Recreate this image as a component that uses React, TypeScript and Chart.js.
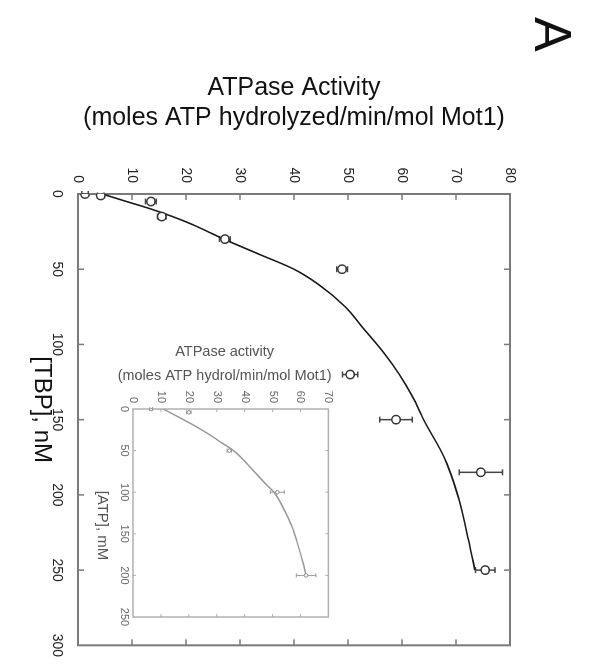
import { useEffect, useRef } from 'react';
import { Chart, registerables } from 'chart.js';

Chart.register(...registerables);

const FAMILY = '"Liberation Sans", Arial, Helvetica, sans-serif';
Chart.defaults.font.family = FAMILY;

// ---- Main panel: ATPase activity vs [TBP] ----
const TBP_NM = [0, 1, 5, 15, 30, 50, 120, 150, 185, 250];
const ACTIVITY = [1.3, 4.2, 13.5, 15.5, 27.2, 48.9, 50.4, 58.9, 74.6, 75.4];
const ACTIVITY_ERR = [0.6, 0.6, 1.0, 0.8, 1.0, 1.0, 1.4, 3.0, 4.0, 1.8];
const FIT_TBP = [0, 5, 10, 15, 20, 30, 40, 50, 60, 75, 90, 105, 120, 135, 150, 175, 200, 225, 250];
const FIT_ACTIVITY = [4.5, 9, 13.5, 17.5, 21, 27, 33.5, 40, 44.5, 49.5, 53, 56.5, 59.5, 62, 64, 67.8, 70.3, 72, 73.5];
const TBP_TICKS = [0, 50, 100, 150, 200, 250, 300];
const ACTIVITY_TICKS = [0, 10, 20, 30, 40, 50, 60, 70, 80];

// ---- Inset: ATPase activity vs [ATP] ----
const ATP_MM = [0, 4, 50, 100, 200];
const INSET_ACTIVITY = [6.5, 20, 34.5, 51.7, 62];
const INSET_ERR = [0.5, 0.8, 0.8, 2.5, 3.5];
const FIT_ATP = [0, 10, 20, 30, 40, 50, 70, 90, 100, 120, 140, 160, 180, 200];
const FIT_INSET = [10.8, 16.5, 22, 27, 31.5, 36, 42, 47.5, 50.5, 54, 56.8, 58.8, 60.5, 62];
const ATP_TICKS = [0, 50, 100, 150, 200, 250];
const INSET_ACTIVITY_TICKS = [0, 10, 20, 30, 40, 50, 60, 70];

const pts = (xs: number[], ys: number[]) => xs.map((x, i) => ({ x, y: ys[i] }));
const setTicks = (values: number[]) => (axis: any) => {
  axis.ticks = values.map((v) => ({ value: v }));
};

const frame = {
  id: 'frame',
  beforeDatasetsDraw(chart: any, _args: any, opts: any) {
    const { ctx, chartArea: a, scales } = chart;
    ctx.save();
    ctx.strokeStyle = opts.color;
    ctx.lineWidth = opts.width;
    ctx.strokeRect(a.left, a.top, a.right - a.left, a.bottom - a.top);
    ctx.lineWidth = opts.tickWidth;
    const len = opts.tickLength;
    ctx.beginPath();
    scales.x.ticks.forEach((t: any) => {
      const x = scales.x.getPixelForValue(t.value);
      if (x <= a.left + 1 || x >= a.right - 1) return;
      ctx.moveTo(x, a.bottom);
      ctx.lineTo(x, a.bottom - len);
      ctx.moveTo(x, a.top);
      ctx.lineTo(x, a.top + len);
    });
    scales.y.ticks.forEach((t: any) => {
      const y = scales.y.getPixelForValue(t.value);
      if (y <= a.top + 1 || y >= a.bottom - 1) return;
      ctx.moveTo(a.left, y);
      ctx.lineTo(a.left + len, y);
      ctx.moveTo(a.right, y);
      ctx.lineTo(a.right - len, y);
    });
    ctx.stroke();
    ctx.restore();
  },
};

const errorBars = {
  id: 'errorBars',
  beforeDatasetsDraw(chart: any, _args: any, opts: any) {
    const { ctx } = chart;
    const ys = chart.scales.y;
    chart.data.datasets.forEach((ds: any, i: number) => {
      if (!ds.errors) return;
      const meta = chart.getDatasetMeta(i);
      ctx.save();
      ctx.strokeStyle = opts.color;
      ctx.lineWidth = opts.width;
      meta.data.forEach((pt: any, j: number) => {
        const v = ds.data[j].y;
        const e = ds.errors[j];
        const y1 = ys.getPixelForValue(v - e);
        const y2 = ys.getPixelForValue(v + e);
        ctx.beginPath();
        ctx.moveTo(pt.x, y1);
        ctx.lineTo(pt.x, y2);
        ctx.moveTo(pt.x - opts.cap, y1);
        ctx.lineTo(pt.x + opts.cap, y1);
        ctx.moveTo(pt.x - opts.cap, y2);
        ctx.lineTo(pt.x + opts.cap, y2);
        ctx.stroke();
      });
      ctx.restore();
    });
  },
};

const panelLetter = {
  id: 'panelLetter',
  afterDraw(chart: any, _args: any, opts: any) {
    if (!opts || !opts.text) return;
    const { ctx } = chart;
    ctx.save();
    ctx.font = `${opts.size}px ${FAMILY}`;
    ctx.fillStyle = opts.color;
    ctx.textBaseline = 'alphabetic';
    ctx.textAlign = 'left';
    ctx.fillText(opts.text, opts.x, opts.y);
    ctx.restore();
  },
};

export default function App() {
  const mainRef = useRef<HTMLCanvasElement>(null);
  const insetRef = useRef<HTMLCanvasElement>(null);

  useEffect(() => {
    document.documentElement.style.overflow = 'hidden';
    document.body.style.overflow = 'hidden';

    const main = new Chart(mainRef.current as HTMLCanvasElement, {
      type: 'scatter',
      data: {
        datasets: [
          {
            label: 'Measured',
            data: pts(TBP_NM, ACTIVITY),
            errors: ACTIVITY_ERR,
            pointRadius: 4.2,
            pointHoverRadius: 4.2,
            pointBorderWidth: 1.5,
            borderColor: '#333',
            backgroundColor: '#fff',
          } as any,
          {
            label: 'Fit',
            data: pts(FIT_TBP, FIT_ACTIVITY),
            showLine: true,
            borderColor: '#1a1a1a',
            borderWidth: 1.6,
            pointRadius: 0,
            pointHoverRadius: 0,
            cubicInterpolationMode: 'monotone',
            fill: false,
          } as any,
        ],
      },
      options: {
        responsive: false,
        animation: false,
        events: [],
        layout: { padding: { top: 81, right: 18, bottom: 0, left: 0 } },
        plugins: {
          legend: { display: false },
          tooltip: { enabled: false },
          frame: { color: '#7a7a7a', width: 2, tickWidth: 1.5, tickLength: 6 },
          errorBars: { color: '#444', width: 1.5, cap: 3 },
          panelLetter: { text: 'A', size: 52, color: '#111', x: 17, y: 56 },
        } as any,
        scales: {
          x: {
            type: 'linear',
            position: 'bottom',
            min: 0,
            max: 300,
            afterBuildTicks: setTicks(TBP_TICKS),
            afterFit: (s: any) => {
              s.height = 78;
            },
            grid: { display: false, drawTicks: false },
            border: { display: false },
            ticks: { font: { size: 14 }, color: '#222', padding: 13, maxRotation: 0, autoSkip: false },
            title: {
              display: true,
              text: '[TBP], nM   ',
              font: { size: 24, lineHeight: 1.2 },
              color: '#111',
              padding: { top: 0, bottom: 27 },
            },
          },
          y: {
            type: 'linear',
            position: 'left',
            min: 0,
            max: 80,
            afterBuildTicks: setTicks(ACTIVITY_TICKS),
            afterFit: (s: any) => {
              s.width = 194;
            },
            grid: { display: false, drawTicks: false },
            border: { display: false },
            ticks: { font: { size: 14 }, color: '#222', padding: 11, autoSkip: false },
            title: {
              display: true,
              text: ['ATPase Activity', '(moles ATP hydrolyzed/min/mol Mot1)'],
              font: { size: 25, lineHeight: 1.2 },
              color: '#111',
              padding: { top: 73, bottom: 0 },
            },
          },
        },
      },
      plugins: [frame, errorBars, panelLetter],
    } as any);

    const inset = new Chart(insetRef.current as HTMLCanvasElement, {
      type: 'scatter',
      data: {
        datasets: [
          {
            label: 'Measured',
            data: pts(ATP_MM, INSET_ACTIVITY),
            errors: INSET_ERR,
            pointRadius: 1.8,
            pointHoverRadius: 1.8,
            pointBorderWidth: 1,
            borderColor: '#8a8a8a',
            backgroundColor: '#fff',
          } as any,
          {
            label: 'Fit',
            data: pts(FIT_ATP, FIT_INSET),
            showLine: true,
            borderColor: '#9a9a9a',
            borderWidth: 1.5,
            pointRadius: 0,
            pointHoverRadius: 0,
            cubicInterpolationMode: 'monotone',
            fill: false,
          } as any,
        ],
      },
      options: {
        responsive: false,
        animation: false,
        events: [],
        layout: { padding: { top: 10, right: 13, bottom: 0, left: 0 } },
        plugins: {
          legend: { display: false },
          tooltip: { enabled: false },
          frame: { color: '#b0b0b0', width: 1.5, tickWidth: 1, tickLength: 3 },
          errorBars: { color: '#9a9a9a', width: 1, cap: 2 },
        } as any,
        scales: {
          x: {
            type: 'linear',
            position: 'bottom',
            min: 0,
            max: 250,
            afterBuildTicks: setTicks(ATP_TICKS),
            afterFit: (s: any) => {
              s.height = 47;
            },
            grid: { display: false, drawTicks: false },
            border: { display: false },
            ticks: { font: { size: 11 }, color: '#666', padding: 2, maxRotation: 0, autoSkip: false },
            title: {
              display: true,
              text: '      [ATP], mM',
              font: { size: 15, lineHeight: 1.2 },
              color: '#555',
              padding: { top: 0, bottom: 7 },
            },
          },
          y: {
            type: 'linear',
            position: 'left',
            min: 0,
            max: 70,
            afterBuildTicks: setTicks(INSET_ACTIVITY_TICKS),
            afterFit: (s: any) => {
              s.width = 79;
            },
            grid: { display: false, drawTicks: false },
            border: { display: false },
            ticks: { font: { size: 11 }, color: '#666', padding: 6, autoSkip: false },
            title: {
              display: true,
              text: ['ATPase activity   ', '(moles ATP hydrol/min/mol Mot1)   '],
              font: { size: 14.5, lineHeight: 1.65 },
              color: '#555',
              padding: { top: 10, bottom: 0 },
            },
          },
        },
      },
      plugins: [frame, errorBars],
    } as any);

    return () => {
      main.destroy();
      inset.destroy();
    };
  }, []);

  return (
    <div
      style={{
        position: 'absolute',
        left: 0,
        top: 0,
        width: 670,
        height: 591,
        transformOrigin: '0 0',
        transform: 'translate(591px, 0px) rotate(90deg)',
        background: '#fff',
      }}
    >
      <canvas
        ref={mainRef}
        width={670}
        height={591}
        style={{ position: 'absolute', left: 0, top: 0, width: 670, height: 591 }}
      />
      <canvas
        ref={insetRef}
        width={300}
        height={255}
        style={{ position: 'absolute', left: 330, top: 250, width: 300, height: 255 }}
      />
    </div>
  );
}
